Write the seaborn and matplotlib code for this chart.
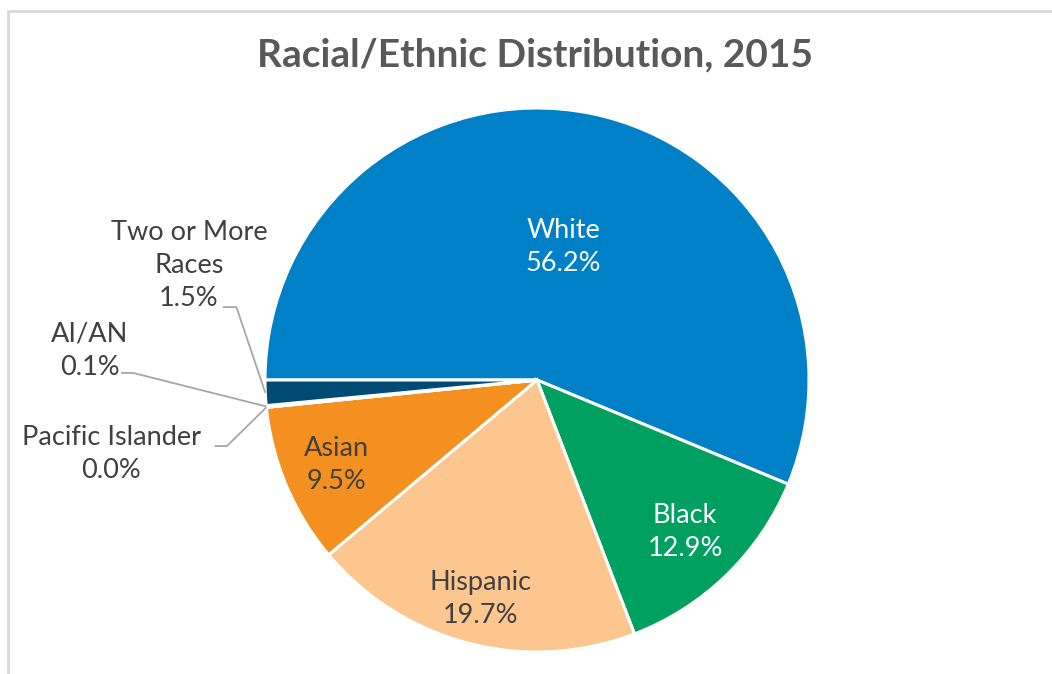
import numpy as np
import matplotlib
matplotlib.use("Agg")
import matplotlib.pyplot as plt
import seaborn as sns
from matplotlib.patches import Rectangle

# Chart data (percent of population)
groups = ["White", "Black", "Hispanic", "Asian", "Pacific Islander", "AI/AN", "Two or More Races"]
shares = [56.2, 12.9, 19.7, 9.5, 0.0, 0.1, 1.5]
label_text = ["White", "Black", "Hispanic", "Asian", "Pacific Islander", "AI/AN", "Two or More\nRaces"]

colors = ["#0080C6", "#00A160", "#FDC68E", "#F4901F", "#7F7F7F", "#A5A5A5", "#004B76"]
text_colors = ["white", "white", "#404040", "#404040"]
# radial position (fraction of radius) of the labels drawn inside the slices
inside_r = [0.50, 0.78, 0.83, 0.80]
# outside labels: text anchor and knee of the leader line, in axes data units
outside = {
    "Pacific Islander": dict(text=(-1.565, -0.272), start=(-1.185, -0.243), knee=(-1.14, -0.243)),
    "AI/AN": dict(text=(-1.645, 0.107), start=(-1.529, 0.026), knee=(-1.485, 0.026)),
    "Two or More Races": dict(text=(-1.28, 0.42), start=(-1.155, 0.268), knee=(-1.105, 0.268)),
}

sns.set_theme(style="white")
plt.rcParams["font.family"] = ["Lato", "DejaVu Sans"]

fig = plt.figure(figsize=(10.52, 6.74), dpi=100)
fig.patches.append(Rectangle((8 / 1052, -0.1), 1.2, 1.1 - 11 / 674,
                             transform=fig.transFigure, fill=False,
                             edgecolor="#D9D9D9", linewidth=2))

cx, cy, rad = 537, 380, 272
ax = fig.add_axes([(cx - rad) / 1052, (674 - cy - rad) / 674, 2 * rad / 1052, 2 * rad / 674])

wedges, _ = ax.pie(shares, colors=colors, startangle=180, counterclock=False,
                   wedgeprops=dict(edgecolor="white", linewidth=2.2))
ax.set_xlim(-1, 1)
ax.set_ylim(-1, 1)
ax.set_aspect("equal")
ax.axis("off")

for i, (w, name, val) in enumerate(zip(wedges, groups, shares)):
    mid = np.deg2rad((w.theta1 + w.theta2) / 2)
    if i < 4:
        r = inside_r[i]
        ax.text(r * np.cos(mid), r * np.sin(mid), f"{label_text[i]}\n{val:.1f}%",
                ha="center", va="center", fontsize=19.5, color=text_colors[i],
                linespacing=1.4)
    else:
        o = outside[name]
        ax.text(*o["text"], f"{label_text[i]}\n{val:.1f}%", ha="center", va="center",
                fontsize=19.5, color="#404040", linespacing=1.4)
        px, py = np.cos(mid), np.sin(mid)
        ax.plot([o["start"][0], o["knee"][0], px], [o["start"][1], o["knee"][1], py],
                color="#A6A6A6", linewidth=1.3, clip_on=False, solid_capstyle="butt")

fig.text(535 / 1052, 1 - 55 / 674, "Racial/Ethnic Distribution, 2015", ha="center", va="center",
         fontsize=28, fontweight="bold", color="#595959")

fig.savefig("out.png", dpi=100)
